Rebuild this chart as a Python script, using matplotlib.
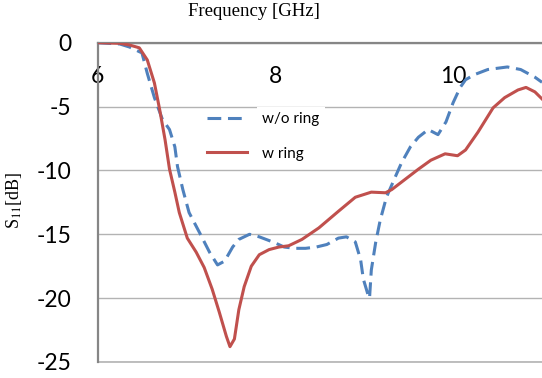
import matplotlib.pyplot as plt

# Frequency (GHz) / S11 (dB)
f_noring = [6.0, 6.25, 6.36, 6.50, 6.56, 6.64, 6.73, 6.81, 6.87, 6.90, 6.96, 7.03,
            7.15, 7.26, 7.35, 7.43, 7.52, 7.59, 7.71, 7.82, 7.99, 8.10, 8.22, 8.34,
            8.46, 8.58, 8.71, 8.80, 8.90, 8.96, 8.99, 9.05, 9.06, 9.08, 9.13, 9.18,
            9.25, 9.35, 9.42, 9.52, 9.61, 9.72, 9.83, 9.92, 10.0, 10.08, 10.14, 10.24,
            10.39, 10.61, 10.76, 10.92, 11.0]
s11_noring = [0.0, -0.1, -0.34, -0.8, -2.4, -4.3, -6.0, -6.8, -8.15, -9.7, -11.5, -13.3,
              -14.9, -16.4, -17.4, -17.1, -16.0, -15.4, -15.0, -15.2, -15.65, -16.0, -16.1, -16.1,
              -16.0, -15.8, -15.3, -15.2, -15.6, -17.0, -18.5, -19.9, -20.0, -17.8, -15.6, -13.9,
              -12.1, -10.5, -9.4, -8.15, -7.4, -6.8, -7.2, -6.2, -4.7, -3.5, -2.9, -2.5,
              -2.1, -1.9, -2.1, -2.7, -3.1]

f_ring = [6.0, 6.25, 6.36, 6.47, 6.56, 6.64, 6.70, 6.76, 6.81, 6.87, 6.92, 7.01,
          7.11, 7.20, 7.29, 7.37, 7.45, 7.49, 7.54, 7.59, 7.65, 7.73, 7.82, 7.93,
          8.04, 8.15, 8.30, 8.49, 8.71, 8.90, 9.08, 9.24, 9.31, 9.46, 9.61, 9.75,
          9.91, 10.05, 10.14, 10.28, 10.45, 10.58, 10.73, 10.82, 10.92, 11.0]
s11_ring = [0.0, -0.05, -0.18, -0.4, -1.35, -3.15, -5.26, -7.6, -9.9, -11.7, -13.3, -15.3,
            -16.4, -17.6, -19.3, -21.1, -23.0, -23.8, -23.2, -20.9, -19.1, -17.5, -16.6, -16.2,
            -16.0, -15.9, -15.4, -14.5, -13.2, -12.1, -11.7, -11.75, -11.5, -10.7, -9.9, -9.2,
            -8.7, -8.85, -8.4, -7.0, -5.1, -4.3, -3.7, -3.5, -3.85, -4.4]

xticks = [6, 8, 10]
yticks = [0, -5, -10, -15, -20, -25]

plt.rcParams['mathtext.fontset'] = 'stix'

fig = plt.figure(figsize=(5.42, 3.78), dpi=100)
ax = fig.add_axes([97.5 / 542, 1 - 362 / 378, 1 - 97.5 / 542, (362 - 42.7) / 378])

ax.plot(f_noring, s11_noring, color='#4F81BD', lw=2.2, ls=(0, (4.5, 2.2)),
        label='w/o ring', zorder=3)
ax.plot(f_ring, s11_ring, color='#C0504D', lw=2.2, solid_joinstyle='round',
        label='w ring', zorder=3)

ax.set_xlim(6, 11)
ax.set_ylim(-25, 0)
ax.set_xticks(xticks)
ax.set_yticks(yticks)
ax.set_yticklabels([str(v) for v in yticks])

ax.yaxis.grid(True, color='#B3B3B3', lw=1.0)
ax.set_axisbelow(True)

ax.xaxis.tick_top()
ax.tick_params(axis='x', length=0, pad=-32, labelsize=16.5)
ax.tick_params(axis='y', length=0, pad=19, labelsize=16.5)
for lab in ax.get_xticklabels() + ax.get_yticklabels():
    lab.set_fontfamily('Lato')

for side in ['right', 'bottom']:
    ax.spines[side].set_visible(False)
ax.spines['top'].set_color('#868686')
ax.spines['top'].set_linewidth(1.6)
ax.spines['left'].set_color('#868686')
ax.spines['left'].set_linewidth(1.6)
ax.axhline(-25, color='#B3B3B3', lw=1.2, clip_on=False)

fig.text(254 / 542, 1 - 11 / 378, 'Frequency [GHz]', family='Liberation Serif',
         fontsize=13.5, ha='center', va='center')
fig.text(14 / 542, 1 - 200 / 378, r'S$_{11}$[dB]', family='Liberation Serif',
         fontsize=13, rotation=90, ha='center', va='center')

leg = ax.legend(loc='upper left', bbox_to_anchor=(207 / 542, 1 - 112 / 378),
                bbox_transform=fig.transFigure, frameon=False, borderpad=0,
                borderaxespad=0, handlelength=2.6, handletextpad=1.0,
                labelspacing=1.35, prop={'family': 'Lato', 'size': 11})
for t in leg.get_texts():
    t.set_bbox(dict(facecolor='white', edgecolor='none', pad=4))

fig.savefig('out.png', dpi=100)
